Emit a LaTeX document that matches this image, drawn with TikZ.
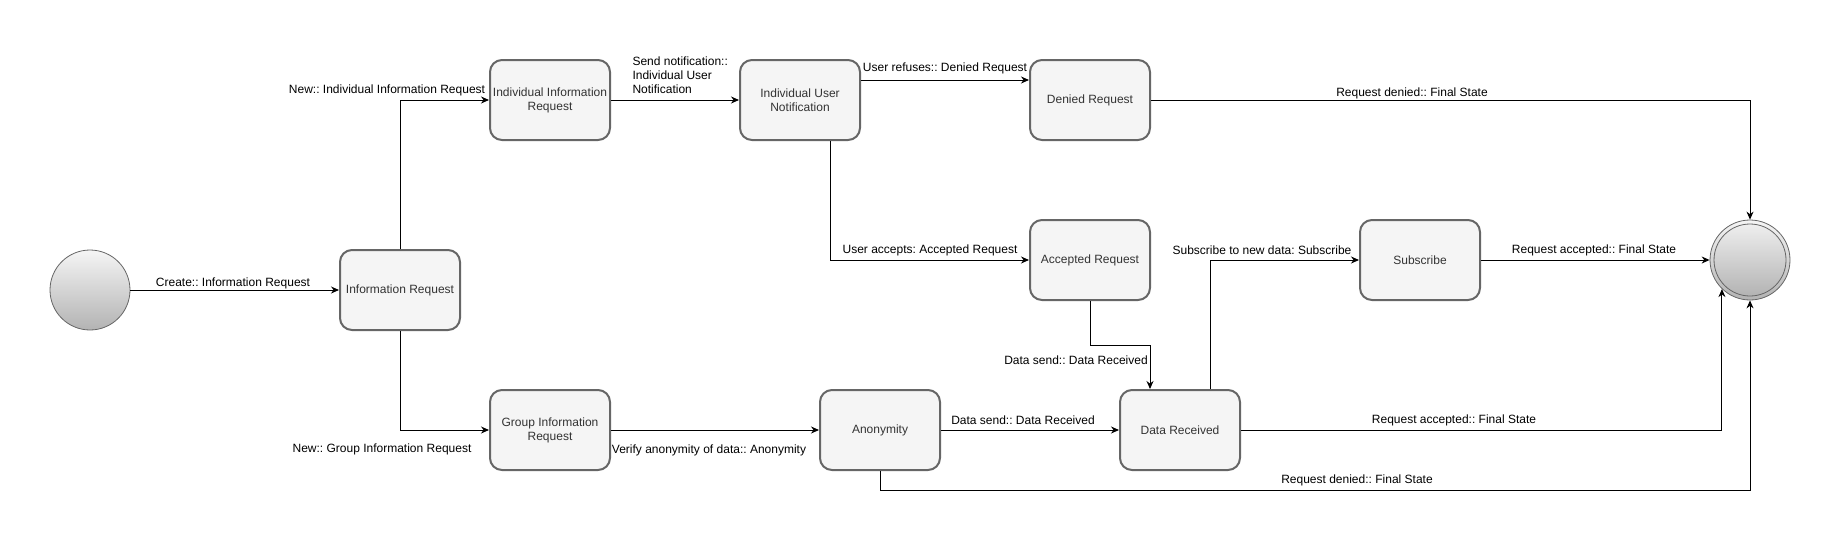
\documentclass[tikz,border=0pt]{standalone}
\usepackage{fontspec}
\setmainfont{Liberation Sans}
\usetikzlibrary{arrows.meta}
\definecolor{boxfill}{HTML}{F5F5F5}
\definecolor{boxline}{HTML}{666666}
\definecolor{boxtext}{HTML}{333333}
\definecolor{gradtop}{HTML}{F5F5F5}
\definecolor{gradbot}{HTML}{B3B3B3}
\begin{document}
\frenchspacing
\begin{tikzpicture}[x=1pt,y=-1pt,
  statebox/.style={draw=boxline, fill=boxfill, line width=2pt, rounded corners=12pt,
    minimum width=120pt, minimum height=80pt, text=boxtext,
    font=\fontsize{12}{14}\selectfont, align=center, inner sep=0pt},
  pseudost/.style={circle, draw=boxline, line width=0.8pt, top color=gradtop,
    bottom color=gradbot, minimum size=80pt, inner sep=0pt},
  innerring/.style={circle, draw=boxline, line width=0.8pt, top color=gradtop!90!gradbot,
    bottom color=gradbot, minimum size=72pt, inner sep=0pt},
  arr/.style={draw=black, line width=1pt, -{Stealth[length=8pt,width=7pt]}},
  lbl/.style={font=\fontsize{12}{14}\selectfont, inner sep=0pt, text=black}
]
\useasboundingbox (0,0) rectangle (1841,549);

\node[pseudost] (start) at (90,290) {};
\node[statebox] (info) at (400,290) {Information Request};
\node[statebox] (iir) at (550,100) {Individual Information\\Request};
\node[statebox] (iun) at (800,100) {Individual User\\Notification};
\node[statebox] (den) at (1090,100) {Denied Request};
\node[statebox] (acc) at (1090,260) {Accepted Request};
\node[statebox] (sub) at (1420,260) {Subscribe};
\node[statebox] (gir) at (550,430) {Group Information\\Request};
\node[statebox] (ano) at (880,430) {Anonymity};
\node[statebox] (dat) at (1180,430) {Data Received};
\node[pseudost] (end) at (1750,260) {};
\node[innerring] (endin) at (1750,260) {};

\draw[arr] (start) -- (info)
  node[lbl] at (233,283) {Create:: Information Request};
\draw[arr] (info.north) |- (iir.west)
  node[lbl] at (387,90) {New:: Individual Information Request};
\draw[arr] (info.south) |- (gir.west)
  node[lbl] at (382,449) {New:: Group Information Request};
\draw[arr] (iir.east) -- (iun.west)
  node[lbl, align=left, anchor=west] at (632,75) {Send notification::\\Individual User\\Notification};
\draw[arr] ([yshift=20pt]iun.east) -- ([yshift=20pt]den.west)
  node[lbl] at (945,68) {User refuses:: Denied Request};
\draw[arr] ([xshift=30pt]iun.south) |- (acc.west)
  node[lbl] at (930,250) {User accepts: Accepted Request};
\draw[arr] (den.east) -| (end.north)
  node[lbl] at (1412,93) {Request denied:: Final State};
\draw[arr] (sub.east) -- (end.west)
  node[lbl] at (1594,250) {Request accepted:: Final State};
\draw[arr] (acc.south) -- ++(0,44) -| ([xshift=-30pt]dat.north)
  node[lbl] at (1076,360) {Data send:: Data Received};
\draw[arr] (gir.east) -- (ano.west)
  node[lbl] at (709,450) {Verify anonymity of data:: Anonymity};
\draw[arr] (ano.east) -- (dat.west)
  node[lbl] at (1023,420) {Data send:: Data Received};
\draw[arr] ([xshift=30pt]dat.north) |- (sub.west)
  node[lbl] at (1262,250) {Subscribe to new data: Subscribe};
\draw[arr] (dat.east) -| (end.226)
  node[lbl] at (1454,420) {Request accepted:: Final State};
\draw[arr] (ano.south) -- ++(0,19) -| (end.south)
  node[lbl] at (1357,480) {Request denied:: Final State};
\end{tikzpicture}
\end{document}
